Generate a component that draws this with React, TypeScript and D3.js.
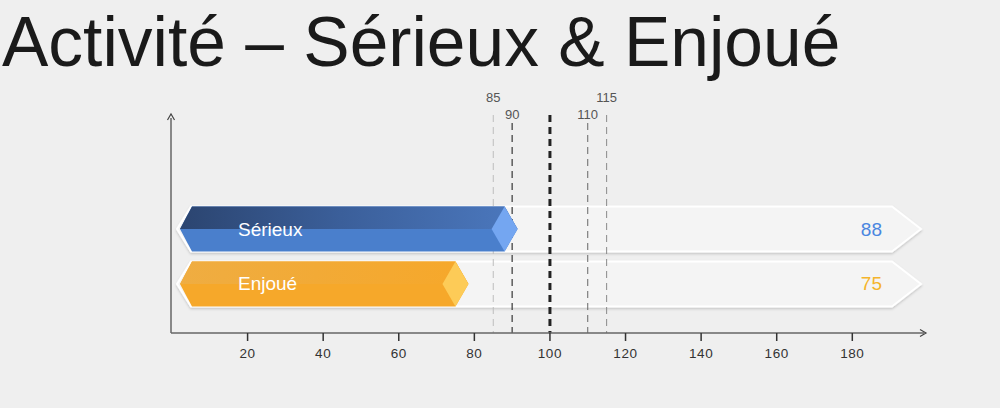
import React from 'react';
import { scaleLinear, scaleBand } from 'd3';

const categories = ['Sérieux', 'Enjoué'];
const values = [88, 75];
const refLines = [85, 90, 100, 110, 115];
const xTicks = [20, 40, 60, 80, 100, 120, 140, 160, 180];

const W = 1000;
const H = 408;

// look of each series / reference line
const seriesStyle = [
  { top: ['#2b446f', '#3b5f9a', '#4a76bb'], bottom: '#4a7fcc', tip: '#74a6f1', label: '#4a86e0' },
  { top: ['#efad42', '#f2aa36', '#f6a82b'], bottom: '#f6a82a', tip: '#fdcb57', label: '#f4b42c' },
];
const refStyle: Record<number, { stroke: string; width: number; row: number }> = {
  85: { stroke: '#bdbdbd', width: 1, row: 0 },
  90: { stroke: '#444', width: 1.3, row: 1 },
  100: { stroke: '#222', width: 3, row: -1 },
  110: { stroke: '#666', width: 1, row: 1 },
  115: { stroke: '#8a8a8a', width: 1, row: 0 },
};

const font = '"Liberation Sans", Arial, sans-serif';

export default function App() {
  const x = scaleLinear().domain([0, 180]).range([172, 852.3]);
  const y = scaleBand<string>().domain(categories).range([206.5, 306.5]).paddingInner(0.1818);

  const axisY = 333;
  const axisX = 171;
  const trackL = 177;
  const trackR = 921;
  const notch = 14;

  return (
    <svg width={W} height={H} style={{ position: 'absolute', left: 0, top: 0, background: '#efefef' }}>
      <defs>
        <filter id="sh" x="-5%" y="-20%" width="110%" height="150%">
          <feDropShadow dx="0" dy="1.5" stdDeviation="1.2" floodColor="#000" floodOpacity="0.18" />
        </filter>
        {seriesStyle.map((s, i) => (
          <linearGradient key={i} id={`g${i}`} gradientUnits="userSpaceOnUse" x1={trackL} x2={x(values[i])} y1={0} y2={0}>
            <stop offset="0" stopColor={s.top[0]} />
            <stop offset="0.5" stopColor={s.top[1]} />
            <stop offset="1" stopColor={s.top[2]} />
          </linearGradient>
        ))}
      </defs>
      <rect width={W} height={H} fill="#efefef" />

      <text x={2} y={66} fontFamily={font} fontSize={69.5} fill="#1a1a1a">
        Activité – Sérieux &amp; Enjoué
      </text>

      {/* tracks */}
      {categories.map((c) => {
        const top = y(c)!;
        const bot = top + y.bandwidth();
        const cy = (top + bot) / 2;
        return (
          <path
            key={c}
            d={`M${trackL},${cy} L${trackL + notch},${top} L${trackR - 29},${top} L${trackR},${cy} L${trackR - 29},${bot} L${trackL + notch},${bot} Z`}
            fill="#f4f4f4"
            stroke="#fff"
            strokeWidth={2}
            filter="url(#sh)"
          />
        );
      })}

      {/* reference lines */}
      {refLines.map((v) => {
        const s = refStyle[v];
        return (
          <g key={v}>
            <line x1={x(v)} x2={x(v)} y1={s.row === 1 ? 123 : 115} y2={axisY} stroke={s.stroke} strokeWidth={s.width} strokeDasharray="7,5" />
            {s.row >= 0 && (
              <text x={x(v)} y={s.row === 0 ? 102 : 119} textAnchor="middle" fontFamily={font} fontSize={13} fill="#555">
                {v}
              </text>
            )}
          </g>
        );
      })}

      {/* bars */}
      {categories.map((c, i) => {
        const top = y(c)!;
        const bot = top + y.bandwidth();
        const cy = (top + bot) / 2;
        const xv = x(values[i]);
        const l = trackL + 3;
        const s = seriesStyle[i];
        const full = `M${l},${cy} L${l + notch - 2},${top} L${xv},${top} L${xv + 13},${cy} L${xv},${bot} L${l + notch - 2},${bot} Z`;
        const upper = `M${l},${cy} L${l + notch - 2},${top} L${xv},${top} L${xv + 13},${cy} Z`;
        return (
          <g key={c}>
            <path d={full} fill={s.bottom} />
            <path d={upper} fill={`url(#g${i})`} />
            <path d={`M${xv - 13},${cy} L${xv},${top} L${xv + 13},${cy} L${xv},${bot} Z`} fill={s.tip} />
            <text x={238} y={cy + 6.5} fontFamily={font} fontSize={19} fill="#fff">
              {c}
            </text>
            <text x={882} y={cy + 6.5} textAnchor="end" fontFamily={font} fontSize={19} fill={s.label}>
              {values[i]}
            </text>
          </g>
        );
      })}

      {/* axes */}
      <line x1={axisX} x2={axisX} y1={118} y2={axisY} stroke="#666" strokeWidth={1.5} />
      <path d={`M${axisX - 3.5},${120} L${axisX},${114} L${axisX + 3.5},${120}`} fill="none" stroke="#444" strokeWidth={1.2} />
      <line x1={axisX} x2={924} y1={axisY} y2={axisY} stroke="#666" strokeWidth={1.5} />
      <path d={`M${920},${axisY - 3.5} L${926},${axisY} L${920},${axisY + 3.5}`} fill="none" stroke="#444" strokeWidth={1.2} />
      {xTicks.map((t) => (
        <g key={t}>
          <line x1={x(t)} x2={x(t)} y1={axisY} y2={axisY + 8} stroke="#333" strokeWidth={1.5} />
          <text x={x(t)} y={358} textAnchor="middle" fontFamily={font} fontSize={13.5} letterSpacing={0.6} fill="#333">
            {t}
          </text>
        </g>
      ))}
    </svg>
  );
}
